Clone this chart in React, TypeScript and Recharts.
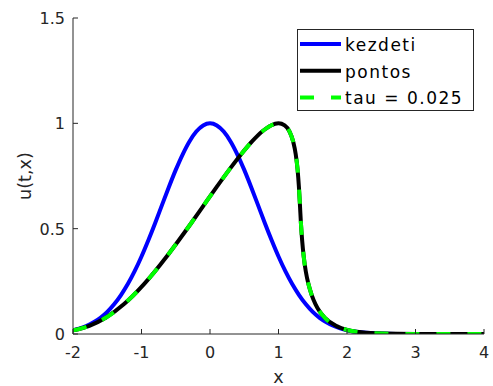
import { LineChart, Line, XAxis, YAxis, Legend } from 'recharts';

const FONT = '"DejaVu Sans", sans-serif';
const AXIS = '#262626';

const xTicks = [-2, -1, 0, 1, 2, 3, 4];
const yTicks = [0, 0.5, 1, 1.5];

// kezdeti (initial profile)
const kezdetiX = [
  -2, -1.9, -1.8, -1.7, -1.6, -1.5, -1.4, -1.3, -1.2, -1.1, -1, -0.9, -0.8, -0.7, -0.6, -0.5, -0.4,
  -0.3, -0.2, -0.1, 0, 0.1, 0.2, 0.3, 0.4, 0.5, 0.6, 0.7, 0.8, 0.9, 1, 1.1, 1.2, 1.3, 1.4, 1.5, 1.6,
  1.7, 1.8, 1.9, 2, 2.2, 2.4, 2.6, 2.8, 3, 3.5, 4,
];
const kezdetiU = [
  0.018, 0.027, 0.039, 0.056, 0.077, 0.105, 0.141, 0.185, 0.237, 0.298, 0.368, 0.445, 0.527, 0.613,
  0.698, 0.779, 0.852, 0.914, 0.961, 0.99, 1.0, 0.99, 0.961, 0.914, 0.852, 0.779, 0.698, 0.613, 0.527,
  0.445, 0.368, 0.298, 0.237, 0.185, 0.141, 0.105, 0.077, 0.056, 0.039, 0.027, 0.018, 0.008, 0.003,
  0.001, 0.0004, 0.0001, 0, 0,
];

// pontos (exact)
const pontosX = [
  -2, -1.761, -1.523, -1.259, -0.963, -0.632, -0.455, -0.273, -0.087, 0.098, 0.279, 0.452, 0.614,
  0.761, 0.89, 1, 1.09, 1.161, 1.214, 1.252, 1.279, 1.298, 1.313, 1.327, 1.345, 1.368, 1.398, 1.437,
  1.485, 1.541, 1.605, 1.677, 1.839, 2.018, 2.208, 2.502, 3, 3.5, 4,
];
const pontosU = [
  0.017, 0.039, 0.077, 0.141, 0.237, 0.368, 0.445, 0.527, 0.613, 0.698, 0.779, 0.852, 0.914, 0.961,
  0.99, 1, 0.99, 0.961, 0.914, 0.852, 0.779, 0.698, 0.613, 0.527, 0.445, 0.368, 0.298, 0.237, 0.185,
  0.141, 0.105, 0.077, 0.039, 0.018, 0.008, 0.002, 0.0001, 0, 0,
];

// tau = 0.025 (numerical)
const tauX = [
  -2, -1.761, -1.523, -1.259, -0.963, -0.632, -0.455, -0.273, -0.087, 0.098, 0.279, 0.452, 0.614,
  0.761, 0.89, 1, 1.09, 1.161, 1.214, 1.252, 1.279, 1.298, 1.313, 1.327, 1.345, 1.368, 1.398, 1.437,
  1.485, 1.541, 1.605, 1.677, 1.839, 2.018, 2.208, 2.502, 3, 3.5, 4,
];
const tauU = [
  0.017, 0.039, 0.077, 0.141, 0.237, 0.368, 0.445, 0.527, 0.613, 0.698, 0.779, 0.852, 0.914, 0.961,
  0.99, 1, 0.99, 0.961, 0.914, 0.852, 0.779, 0.698, 0.613, 0.527, 0.445, 0.368, 0.298, 0.237, 0.185,
  0.141, 0.105, 0.077, 0.039, 0.018, 0.008, 0.002, 0.0001, 0, 0,
];

const toPoints = (xs: number[], us: number[]) => xs.map((x, i) => ({ x, u: us[i] }));

const BottomTick = ({ x, y, payload }: any) => (
  <g>
    <line x1={x} y1={y} x2={x} y2={y - 5} stroke={AXIS} />
    <text x={x} y={y + 24} textAnchor="middle" fill={AXIS} fontSize={16} fontFamily={FONT}>
      {payload.value}
    </text>
  </g>
);
const TopTick = ({ x, y }: any) => <line x1={x} y1={y} x2={x} y2={y + 5} stroke={AXIS} />;
const LeftTick = ({ x, y, payload }: any) => (
  <g>
    <line x1={x} y1={y} x2={x + 5} y2={y} stroke={AXIS} />
    <text x={x - 8} y={y + 6} textAnchor="end" fill={AXIS} fontSize={16} fontFamily={FONT}>
      {payload.value}
    </text>
  </g>
);
const RightTick = ({ x, y }: any) => <line x1={x} y1={y} x2={x - 5} y2={y} stroke={AXIS} />;

const LegendBox = ({ payload }: any) => (
  <svg width={177} height={82} style={{ display: 'block' }}>
    <rect x={0.5} y={0.5} width={176} height={81} fill="#fff" stroke={AXIS} />
    {(payload || []).map((p: any, i: number) => {
      const ly = 15 + i * 26.7;
      return (
        <g key={p.value}>
          <line x1={3} y1={ly} x2={44} y2={ly} stroke={p.color} strokeWidth={4}
            strokeDasharray={p.payload?.strokeDasharray} />
          <text x={48} y={ly + 7} fill="#000" fontSize={17} fontFamily={FONT}
            style={{ letterSpacing: 1.5 }}>{p.value}</text>
        </g>
      );
    })}
  </svg>
);

export default function App() {
  return (
    <div style={{ position: 'absolute', left: 0, top: 0, width: 493, height: 386, background: '#fff' }}>
      <LineChart width={493} height={386} margin={{ top: 18, right: 9, bottom: 0, left: 0 }}>
        <XAxis dataKey="x" type="number" domain={[-2, 4]} ticks={xTicks} allowDataOverflow
          height={52} tickSize={0} tickMargin={0} tick={<BottomTick />} tickLine={false}
          axisLine={{ stroke: AXIS }}
          label={{ value: 'x', position: 'insideBottom', offset: 3, fill: AXIS, fontSize: 17.6, fontFamily: FONT }} />
        <XAxis xAxisId="top" orientation="top" dataKey="x" type="number" domain={[-2, 4]} ticks={xTicks}
          allowDataOverflow height={0} tickSize={0} tickMargin={0} tick={<TopTick />} tickLine={false}
          axisLine={{ stroke: AXIS }} />
        <YAxis type="number" domain={[0, 1.5]} ticks={yTicks} allowDataOverflow width={73}
          tickSize={0} tickMargin={0} tick={<LeftTick />} tickLine={false} axisLine={{ stroke: AXIS }}
          label={({ viewBox }: any) => {
            const cy = viewBox.y + viewBox.height / 2;
            return (
              <text x={31} y={cy} transform={`rotate(-90, 31, ${cy})`} textAnchor="middle"
                fill={AXIS} fontSize={17.6} fontFamily={FONT}>u(t,x)</text>
            );
          }} />
        <YAxis yAxisId="right" orientation="right" type="number" domain={[0, 1.5]} ticks={yTicks}
          allowDataOverflow width={0} tickSize={0} tickMargin={0} tick={<RightTick />} tickLine={false}
          axisLine={{ stroke: AXIS }} />
        <Legend layout="horizontal" verticalAlign="middle" align="center" content={<LegendBox />}
          wrapperStyle={{ left: 297, top: 29, width: 177, height: 82 }} />
        <Line data={toPoints(kezdetiX, kezdetiU)} dataKey="u" name="kezdeti" type="monotone"
          stroke="#0000ff" strokeWidth={4} dot={false} isAnimationActive={false} />
        <Line data={toPoints(pontosX, pontosU)} dataKey="u" name="pontos" type="monotone"
          stroke="#000000" strokeWidth={4} dot={false} isAnimationActive={false} />
        <Line data={toPoints(tauX, tauU)} dataKey="u" name="tau = 0.025" type="monotone"
          stroke="#00ff00" strokeWidth={4} strokeDasharray="14 17" dot={false} isAnimationActive={false} />
      </LineChart>
    </div>
  );
}
